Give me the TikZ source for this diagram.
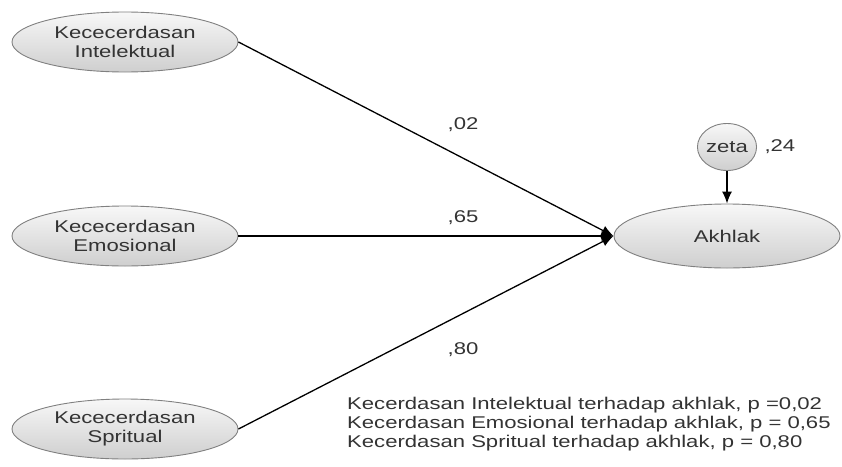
\documentclass[tikz,border=0pt]{standalone}
\usepackage{fontspec}
\setmainfont{Liberation Sans}
\usepackage{graphicx}
\usetikzlibrary{arrows.meta,positioning,shapes.geometric}

\newcommand{\wide}[1]{\scalebox{1.3}[1]{#1}}

\begin{document}
\begin{tikzpicture}[x=1pt, y=-1pt, font=\fontsize{17}{19}\selectfont]
    \tikzstyle{latent} = [ellipse, draw=gray, line width=0.9pt, top color=gray!6, bottom color=gray!38, text=black!80, align=center, inner sep=0pt, minimum width=226pt, minimum height=60pt]
    \tikzstyle{path} = [line width=1.3pt, -{Latex[length=12pt, width=10pt]}]
    \tikzstyle{coef} = [text=black!80]
    \useasboundingbox (0,0) rectangle (842,466);

    % Predictors
    \node [latent] (intel) at (125,42) {\wide{Kececerdasan}\\ \wide{Intelektual}};
    \node [latent] (emosi) at (125,236) {\wide{Kececerdasan}\\ \wide{Emosional}};
    \node [latent] (spirit) at (125,429) {\wide{Kececerdasan}\\ \wide{Spritual}};

    % Outcome
    \node [latent, minimum height=64pt] (akhlak) at (727,236) {\wide{Akhlak}};
    \node [latent, minimum width=57pt, minimum height=47pt] (zeta) at (727,147) {\wide{zeta}};
    \node [coef, right=4pt of zeta] (zetaval) {\wide{,24}};

    % Paths
    \draw[path] (intel.east) -- (akhlak.west);
    \draw[path] (emosi.east) -- (akhlak.west);
    \draw[path] (spirit.east) -- (akhlak.west);
    \draw[path] (zeta.south) -- (akhlak.north);

    \node [coef] (b1) at (463,125) {\wide{,02}};
    \node [coef] (b2) at (463,218) {\wide{,65}};
    \node [coef] (b3) at (463,350) {\wide{,80}};

    % Notes
    \node [coef, anchor=north west, align=left, inner sep=0pt] (note) at (347,397) {\wide{Kecerdasan Intelektual terhadap akhlak, p =0,02}\\ \wide{Kecerdasan Emosional terhadap akhlak, p = 0,65}\\ \wide{Kecerdasan Spritual terhadap akhlak, p = 0,80}};
\end{tikzpicture}
\end{document}
